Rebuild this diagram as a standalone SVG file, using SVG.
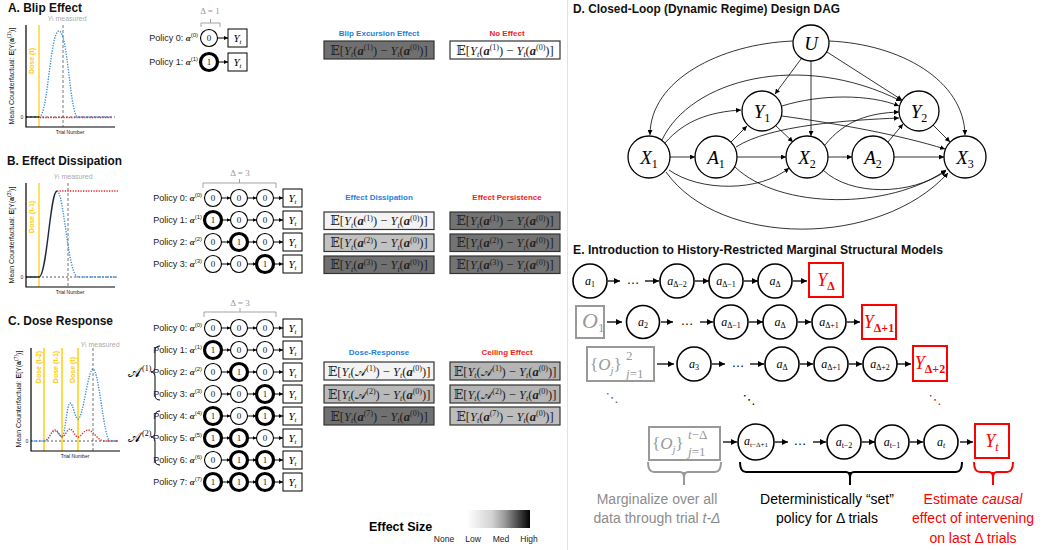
<svg xmlns="http://www.w3.org/2000/svg" width="1043" height="550" viewBox="0 0 1043 550">
<defs>
<marker id="ah" viewBox="0 0 10 10" refX="10" refY="5" markerWidth="5" markerHeight="5" markerUnits="userSpaceOnUse" orient="auto"><path d="M0,0 L10,5 L0,10 z" fill="#000"/></marker>
<marker id="ahp" viewBox="0 0 10 10" refX="10" refY="5" markerWidth="4" markerHeight="4" markerUnits="userSpaceOnUse" orient="auto"><path d="M0,0 L10,5 L0,10 z" fill="#000"/></marker>
<marker id="ahE" viewBox="0 0 10 10" refX="10" refY="5" markerWidth="6" markerHeight="6" markerUnits="userSpaceOnUse" orient="auto"><path d="M0,0 L10,5 L0,10 z" fill="#000"/></marker>
<linearGradient id="es" x1="0" x2="1" y1="0" y2="0">
<stop offset="0" stop-color="#ffffff"/><stop offset="0.4" stop-color="#d2d2d2"/><stop offset="0.6" stop-color="#9a9a9a"/><stop offset="1" stop-color="#000"/>
</linearGradient>
</defs>
<style>
.ttl{font-family:"Liberation Sans",Arial,sans-serif;font-weight:bold;font-size:13.5px;fill:#111}
.pol{font-family:"Liberation Sans",Arial,sans-serif;font-size:9px;fill:#222}
.bi{font-family:"Liberation Serif",serif;font-weight:bold;font-style:italic}
.it{font-style:italic}
.scr{font-family:"DejaVu Sans","DejaVu Serif",serif;font-style:normal}
.c{fill:#fff;stroke:#000;stroke-width:1.1}
.ck{fill:#fff;stroke:#000;stroke-width:3.2}
.num{font-family:"Liberation Serif",serif;font-size:9px;text-anchor:middle;fill:#222}
.yb{fill:#fff;stroke:#000;stroke-width:1}
.yt{font-family:"Liberation Serif",serif;font-style:italic;font-size:11px;text-anchor:middle}
.pa{stroke:#000;stroke-width:1;marker-end:url(#ahp)}
.fbox{stroke:#333;stroke-width:1.2}
.fm{font-family:"Liberation Serif","DejaVu Serif","DejaVu Sans",serif;font-size:12.5px;text-anchor:middle;fill:#222}
.lbB{font-family:"Liberation Sans",Arial,sans-serif;font-weight:bold;font-size:8px;fill:#1f7fd6;text-anchor:middle}
.lbR{font-family:"Liberation Sans",Arial,sans-serif;font-weight:bold;font-size:8px;fill:#f21d1d;text-anchor:middle}
.ax{stroke:#000;stroke-width:1.2;fill:none}
.blue{stroke:#3d8fdc;stroke-width:1.4;stroke-dasharray:1.3 1.3;fill:none}
.red{stroke:#e8282b;stroke-width:1.4;stroke-dasharray:1.3 1.3;fill:none}
.base{stroke:#333;stroke-width:0.8;stroke-dasharray:2 2;fill:none}
.vd{stroke:#666;stroke-width:0.9;stroke-dasharray:3 2}
.yl{stroke:#ffe066;stroke-width:2}
.yl2{stroke:#ffd21f;stroke-width:1.6}
.dose{font-family:"Liberation Sans",Arial,sans-serif;font-weight:bold;font-size:7px;fill:#ffcc00;text-anchor:middle}
.ylab{font-family:"Liberation Sans",Arial,sans-serif;font-size:7px;text-anchor:middle;fill:#222}
.tiny{font-family:"Liberation Sans",Arial,sans-serif;font-size:5px;text-anchor:middle;fill:#222}
.meas{font-family:"Liberation Sans",Arial,sans-serif;font-size:7px;fill:#aaa;text-anchor:middle}
.gtx{font-family:"Liberation Serif",serif;font-size:9px;fill:#999;text-anchor:middle}
.gbr{stroke:#999;stroke-width:0.9;fill:none}
.dg{stroke:#000;stroke-width:0.8;fill:none;marker-end:url(#ah)}
.dn{fill:#fff;stroke:#000;stroke-width:1.3}
.dl{font-family:"Liberation Serif",serif;font-style:italic;font-size:19px;text-anchor:middle}
.ec{fill:#fff;stroke:#000;stroke-width:1.6}
.ea{stroke:#000;stroke-width:1.3;marker-end:url(#ahE)}
.el{font-family:"Liberation Serif",serif;font-style:italic;font-size:12px;text-anchor:middle}
.rb{fill:#fff;stroke:#f00;stroke-width:2}
.gb{fill:#fff;stroke:#999;stroke-width:2}
.rt{font-family:"Liberation Serif",serif;font-style:italic;font-size:18px;fill:#f00;text-anchor:middle}
.gt{font-family:"Liberation Serif",serif;font-size:19px;fill:#999}
.gt17{font-family:"Liberation Serif",serif;font-size:17px;fill:#999}
.gts{font-family:"Liberation Serif",serif;font-size:13px;fill:#999}
.et{font-family:"Liberation Sans",Arial,sans-serif;font-size:14px;text-anchor:middle}
.dots{font-family:"DejaVu Sans",sans-serif;font-size:13px;text-anchor:middle}
.brc{fill:none;stroke-width:2}
</style>
<rect width="1043" height="550" fill="#fff"/>
<line x1="567.5" y1="0" x2="567.5" y2="550" stroke="#e2e2e2" stroke-width="1"/>

<!-- ============ PANEL A ============ -->
<g id="panelA">
<text class="ttl" x="8" y="12" textLength="74" lengthAdjust="spacingAndGlyphs">A. Blip Effect</text>
<g id="plotA">
<line class="yl" x1="39" y1="25" x2="39" y2="127"/>
<text class="dose" transform="rotate(-90 34 61)" x="34" y="61">Dose (t)</text>
<line class="vd" x1="63" y1="25" x2="63" y2="127"/>
<text class="meas" x="67" y="21"><tspan class="it">Y</tspan><tspan font-size="5">t</tspan> measured</text>
<path class="base" d="M26,117 H115"/>
<path d="M26,117 H39" stroke="#111" stroke-width="1.3"/>
<path class="red" d="M40,117.5 H112"/>
<path class="blue" d="M39,117 C48,117 50,31 59,31 C68,31 70,117 78,117 L112,117"/>
<path class="ax" d="M26,25 V127 H115"/>
<text class="tiny" x="22" y="119">0</text>
<text class="tiny" x="70" y="134">Trial Number</text>
<text class="ylab" transform="rotate(-90 14 76)" x="14" y="76">Mean Counterfactual: <tspan font-weight="bold">E</tspan>[Y(<tspan font-weight="bold">a</tspan><tspan font-size="5" dy="-3">(1)</tspan><tspan dy="3">)]</tspan></text>
</g>
<text class="gtx" x="210" y="14">Δ = 1</text>
<path class="gbr" d="M201,27 V23 H220 V27 M210.5,23 V19"/>
<g id="A-p0">
<text class="pol" x="198" y="41" text-anchor="end">Policy 0: <tspan class="bi">α</tspan><tspan font-size="6" dy="-4">(0)</tspan></text>
<circle class="c" cx="209" cy="38" r="8.5"/><text class="num" x="209" y="41">0</text>
<line class="pa" x1="217.5" y1="38" x2="228" y2="38"/>
<rect class="yb" x="228" y="29" width="19" height="18"/><text class="yt" x="237.5" y="42">Y<tspan font-size="7" dy="2">t</tspan></text>
</g>
<g id="A-p1">
<text class="pol" x="198" y="65" text-anchor="end">Policy 1: <tspan class="bi">α</tspan><tspan font-size="6" dy="-4">(1)</tspan></text>
<circle class="ck" cx="209" cy="62" r="8.5"/><text class="num" x="209" y="65">1</text>
<line class="pa" x1="217.5" y1="62" x2="228" y2="62"/>
<rect class="yb" x="228" y="53" width="19" height="18"/><text class="yt" x="237.5" y="66">Y<tspan font-size="7" dy="2">t</tspan></text>
</g>
<text class="lbB" x="379" y="36">Blip Excursion Effect</text>
<text class="lbR" x="507" y="36">No Effect</text>
<g id="A-f1"><rect class="fbox" x="324" y="41" width="110" height="18" fill="#707070"/>
<text class="fm" x="379" y="54.5">𝔼[<tspan class="it">Y</tspan><tspan class="it" font-size="8" dy="2.5">t</tspan><tspan dy="-2.5">(</tspan><tspan class="bi">a</tspan><tspan font-size="8" dy="-4.5">(1)</tspan><tspan dy="4.5">) − </tspan><tspan class="it">Y</tspan><tspan class="it" font-size="8" dy="2.5">t</tspan><tspan dy="-2.5">(</tspan><tspan class="bi">a</tspan><tspan font-size="8" dy="-4.5">(0)</tspan><tspan dy="4.5">)]</tspan></text></g>
<g id="A-f2"><rect class="fbox" x="450" y="41" width="110" height="18" fill="#fff"/>
<text class="fm" x="505" y="54.5">𝔼[<tspan class="it">Y</tspan><tspan class="it" font-size="8" dy="2.5">t</tspan><tspan dy="-2.5">(</tspan><tspan class="bi">a</tspan><tspan font-size="8" dy="-4.5">(1)</tspan><tspan dy="4.5">) − </tspan><tspan class="it">Y</tspan><tspan class="it" font-size="8" dy="2.5">t</tspan><tspan dy="-2.5">(</tspan><tspan class="bi">a</tspan><tspan font-size="8" dy="-4.5">(0)</tspan><tspan dy="4.5">)]</tspan></text></g>
</g>

<!-- ============ PANEL B ============ -->
<g id="panelB">
<text class="ttl" x="7" y="165" textLength="115" lengthAdjust="spacingAndGlyphs">B. Effect Dissipation</text>
<g id="plotB">
<line class="yl" x1="39" y1="183" x2="39" y2="287"/>
<text class="dose" transform="rotate(-90 34 217)" x="34" y="217">Dose (t-1)</text>
<line class="vd" x1="68" y1="183" x2="68" y2="287"/>
<text class="meas" x="73" y="179"><tspan class="it">Y</tspan><tspan font-size="5">t</tspan> measured</text>
<path class="base" d="M26,277 H117"/>
<path class="red" d="M57,191 H118"/>
<path class="blue" d="M57,191 C64,191 68,277 78,277 L117,277"/>
<path d="M26,277 H39 C47,277 50,191 57,191" stroke="#1b2a3a" stroke-width="1.4" fill="none"/>
<path class="ax" d="M26,183 V287 H115"/>
<text class="tiny" x="22" y="279">0</text>
<text class="tiny" x="70" y="294">Trial Number</text>
<text class="ylab" transform="rotate(-90 14 235)" x="14" y="235">Mean Counterfactual: <tspan font-weight="bold">E</tspan>[Y(<tspan font-weight="bold">a</tspan><tspan font-size="5" dy="-3">(3)</tspan><tspan dy="3">)]</tspan></text>
</g>
<text class="gtx" x="240" y="176">Δ = 3</text>
<path class="gbr" d="M203,188 V183 H276 V188 M239.5,183 V179"/>
<g id="B-p0">
<text class="pol" x="202" y="201" text-anchor="end">Policy 0: <tspan class="bi">α</tspan><tspan font-size="6" dy="-4">(0)</tspan></text>
<circle class="c" cx="213" cy="198" r="8.5"/><text class="num" x="213" y="201">0</text>
<line class="pa" x1="221.5" y1="198" x2="230.5" y2="198"/>
<circle class="c" cx="239" cy="198" r="8.5"/><text class="num" x="239" y="201">0</text>
<line class="pa" x1="247.5" y1="198" x2="256.5" y2="198"/>
<circle class="c" cx="265" cy="198" r="8.5"/><text class="num" x="265" y="201">0</text>
<line class="pa" x1="273.5" y1="198" x2="283" y2="198"/>
<rect class="yb" x="283" y="189" width="19" height="18"/><text class="yt" x="292.5" y="202">Y<tspan font-size="7" dy="2">t</tspan></text>
</g>
<g id="B-p1">
<text class="pol" x="202" y="223" text-anchor="end">Policy 1: <tspan class="bi">α</tspan><tspan font-size="6" dy="-4">(1)</tspan></text>
<circle class="ck" cx="213" cy="220" r="8.5"/><text class="num" x="213" y="223">1</text>
<line class="pa" x1="221.5" y1="220" x2="230.5" y2="220"/>
<circle class="c" cx="239" cy="220" r="8.5"/><text class="num" x="239" y="223">0</text>
<line class="pa" x1="247.5" y1="220" x2="256.5" y2="220"/>
<circle class="c" cx="265" cy="220" r="8.5"/><text class="num" x="265" y="223">0</text>
<line class="pa" x1="273.5" y1="220" x2="283" y2="220"/>
<rect class="yb" x="283" y="211" width="19" height="18"/><text class="yt" x="292.5" y="224">Y<tspan font-size="7" dy="2">t</tspan></text>
</g>
<g id="B-p2">
<text class="pol" x="202" y="245" text-anchor="end">Policy 2: <tspan class="bi">α</tspan><tspan font-size="6" dy="-4">(2)</tspan></text>
<circle class="c" cx="213" cy="242" r="8.5"/><text class="num" x="213" y="245">0</text>
<line class="pa" x1="221.5" y1="242" x2="230.5" y2="242"/>
<circle class="ck" cx="239" cy="242" r="8.5"/><text class="num" x="239" y="245">1</text>
<line class="pa" x1="247.5" y1="242" x2="256.5" y2="242"/>
<circle class="c" cx="265" cy="242" r="8.5"/><text class="num" x="265" y="245">0</text>
<line class="pa" x1="273.5" y1="242" x2="283" y2="242"/>
<rect class="yb" x="283" y="233" width="19" height="18"/><text class="yt" x="292.5" y="246">Y<tspan font-size="7" dy="2">t</tspan></text>
</g>
<g id="B-p3">
<text class="pol" x="202" y="267" text-anchor="end">Policy 3: <tspan class="bi">α</tspan><tspan font-size="6" dy="-4">(3)</tspan></text>
<circle class="c" cx="213" cy="264" r="8.5"/><text class="num" x="213" y="267">0</text>
<line class="pa" x1="221.5" y1="264" x2="230.5" y2="264"/>
<circle class="c" cx="239" cy="264" r="8.5"/><text class="num" x="239" y="267">0</text>
<line class="pa" x1="247.5" y1="264" x2="256.5" y2="264"/>
<circle class="ck" cx="265" cy="264" r="8.5"/><text class="num" x="265" y="267">1</text>
<line class="pa" x1="273.5" y1="264" x2="283" y2="264"/>
<rect class="yb" x="283" y="255" width="19" height="18"/><text class="yt" x="292.5" y="268">Y<tspan font-size="7" dy="2">t</tspan></text>
</g>
<text class="lbB" x="379" y="200">Effect Dissipation</text>
<text class="lbR" x="507" y="200">Effect Persistence</text>
<g id="B-f">
<rect class="fbox" x="324" y="212" width="110" height="17.5" fill="#f3f3f3"/>
<text class="fm" x="379" y="225">𝔼[<tspan class="it">Y</tspan><tspan class="it" font-size="8" dy="2.5">t</tspan><tspan dy="-2.5">(</tspan><tspan class="bi">a</tspan><tspan font-size="8" dy="-4.5">(1)</tspan><tspan dy="4.5">) − </tspan><tspan class="it">Y</tspan><tspan class="it" font-size="8" dy="2.5">t</tspan><tspan dy="-2.5">(</tspan><tspan class="bi">a</tspan><tspan font-size="8" dy="-4.5">(0)</tspan><tspan dy="4.5">)]</tspan></text>
<rect class="fbox" x="324" y="234" width="110" height="17.5" fill="#c2c2c2"/>
<text class="fm" x="379" y="247">𝔼[<tspan class="it">Y</tspan><tspan class="it" font-size="8" dy="2.5">t</tspan><tspan dy="-2.5">(</tspan><tspan class="bi">a</tspan><tspan font-size="8" dy="-4.5">(2)</tspan><tspan dy="4.5">) − </tspan><tspan class="it">Y</tspan><tspan class="it" font-size="8" dy="2.5">t</tspan><tspan dy="-2.5">(</tspan><tspan class="bi">a</tspan><tspan font-size="8" dy="-4.5">(0)</tspan><tspan dy="4.5">)]</tspan></text>
<rect class="fbox" x="324" y="256" width="110" height="17.5" fill="#707070"/>
<text class="fm" x="379" y="269">𝔼[<tspan class="it">Y</tspan><tspan class="it" font-size="8" dy="2.5">t</tspan><tspan dy="-2.5">(</tspan><tspan class="bi">a</tspan><tspan font-size="8" dy="-4.5">(3)</tspan><tspan dy="4.5">) − </tspan><tspan class="it">Y</tspan><tspan class="it" font-size="8" dy="2.5">t</tspan><tspan dy="-2.5">(</tspan><tspan class="bi">a</tspan><tspan font-size="8" dy="-4.5">(0)</tspan><tspan dy="4.5">)]</tspan></text>
<rect class="fbox" x="450" y="212" width="110" height="17.5" fill="#737373"/>
<text class="fm" x="505" y="225">𝔼[<tspan class="it">Y</tspan><tspan class="it" font-size="8" dy="2.5">t</tspan><tspan dy="-2.5">(</tspan><tspan class="bi">a</tspan><tspan font-size="8" dy="-4.5">(1)</tspan><tspan dy="4.5">) − </tspan><tspan class="it">Y</tspan><tspan class="it" font-size="8" dy="2.5">t</tspan><tspan dy="-2.5">(</tspan><tspan class="bi">a</tspan><tspan font-size="8" dy="-4.5">(0)</tspan><tspan dy="4.5">)]</tspan></text>
<rect class="fbox" x="450" y="234" width="110" height="17.5" fill="#737373"/>
<text class="fm" x="505" y="247">𝔼[<tspan class="it">Y</tspan><tspan class="it" font-size="8" dy="2.5">t</tspan><tspan dy="-2.5">(</tspan><tspan class="bi">a</tspan><tspan font-size="8" dy="-4.5">(2)</tspan><tspan dy="4.5">) − </tspan><tspan class="it">Y</tspan><tspan class="it" font-size="8" dy="2.5">t</tspan><tspan dy="-2.5">(</tspan><tspan class="bi">a</tspan><tspan font-size="8" dy="-4.5">(0)</tspan><tspan dy="4.5">)]</tspan></text>
<rect class="fbox" x="450" y="256" width="110" height="17.5" fill="#737373"/>
<text class="fm" x="505" y="269">𝔼[<tspan class="it">Y</tspan><tspan class="it" font-size="8" dy="2.5">t</tspan><tspan dy="-2.5">(</tspan><tspan class="bi">a</tspan><tspan font-size="8" dy="-4.5">(3)</tspan><tspan dy="4.5">) − </tspan><tspan class="it">Y</tspan><tspan class="it" font-size="8" dy="2.5">t</tspan><tspan dy="-2.5">(</tspan><tspan class="bi">a</tspan><tspan font-size="8" dy="-4.5">(0)</tspan><tspan dy="4.5">)]</tspan></text>
</g>
</g>

<!-- ============ PANEL C ============ -->
<g id="panelC">
<text class="ttl" x="8" y="325" textLength="105" lengthAdjust="spacingAndGlyphs">C. Dose Response</text>
<g id="plotC">
<line class="yl2" x1="44" y1="348" x2="44" y2="451"/>
<line class="yl2" x1="62" y1="348" x2="62" y2="451"/>
<line class="yl2" x1="78" y1="348" x2="78" y2="451"/>
<text class="dose" transform="rotate(-90 41 367)" x="41" y="367">Dose (t-2)</text>
<text class="dose" transform="rotate(-90 58 367)" x="58" y="367">Dose (t-1)</text>
<text class="dose" transform="rotate(-90 75 370)" x="75" y="370">Dose (t)</text>
<line class="vd" x1="93" y1="348" x2="93" y2="451"/>
<text class="meas" x="100" y="347"><tspan class="it">Y</tspan><tspan font-size="5">t</tspan> measured</text>
<path class="base" d="M31,441 H119"/>
<path class="red" d="M44,441 C49,441 51,430 55,430 C58,430 60,437 62,437 C65,437 67,429 70,429 C73,429 75,437 78,437 C81,437 84,430 88,430 C93,430 98,441 104,441 L118,441"/>
<path class="blue" d="M31,441 L44,441 C49,441 51,431 55,431 C58,431 60,437 62,437 C65,437 67,403 70,403 C73,403 75,419 78,419 C83,419 88,369 93,369 C99,369 104,441 110,441 L118,441"/>
<path class="ax" d="M31,348 V451 H120"/>
<text class="tiny" x="27" y="443">0</text>
<text class="tiny" x="75" y="458">Trial Number</text>
<text class="ylab" transform="rotate(-90 21 399)" x="21" y="399">Mean Counterfactual: <tspan font-weight="bold">E</tspan>[Y(<tspan font-weight="bold">a</tspan><tspan font-size="5" dy="-3">(7)</tspan><tspan dy="3">)]</tspan></text>
</g>
<text class="gtx" x="240" y="306">Δ = 3</text>
<path class="gbr" d="M204,317 V312 H276 V317 M240,312 V308"/>
<g id="C-sets" font-family="Liberation Serif, serif">
<text x="128" y="377" font-size="14"><tspan class="scr">𝒜</tspan><tspan font-size="8" dx="1" dy="-6">(1)</tspan></text>
<path d="M160,346 Q155,346 155,351 V367 Q155,372 151,372 Q155,372 155,377 V395 Q155,400 160,400" fill="none" stroke="#000" stroke-width="1"/>
<text x="128" y="442" font-size="14"><tspan class="scr">𝒜</tspan><tspan font-size="8" dx="1" dy="-6">(2)</tspan></text>
<path d="M160,411 Q155,411 155,416 V432 Q155,437 151,437 Q155,437 155,442 V460 Q155,465 160,465" fill="none" stroke="#000" stroke-width="1"/>
</g>
<g id="C-p0">
<text class="pol" x="202" y="331" text-anchor="end">Policy 0: <tspan class="bi">α</tspan><tspan font-size="6" dy="-4">(0)</tspan></text>
<circle class="c" cx="213" cy="328" r="8.5"/><text class="num" x="213" y="331">0</text>
<line class="pa" x1="221.5" y1="328" x2="230.5" y2="328"/>
<circle class="c" cx="239" cy="328" r="8.5"/><text class="num" x="239" y="331">0</text>
<line class="pa" x1="247.5" y1="328" x2="256.5" y2="328"/>
<circle class="c" cx="265" cy="328" r="8.5"/><text class="num" x="265" y="331">0</text>
<line class="pa" x1="273.5" y1="328" x2="283" y2="328"/>
<rect class="yb" x="283" y="319" width="19" height="18"/><text class="yt" x="292.5" y="332">Y<tspan font-size="7" dy="2">t</tspan></text>
</g>
<g id="C-p1">
<text class="pol" x="202" y="353" text-anchor="end">Policy 1: <tspan class="bi">α</tspan><tspan font-size="6" dy="-4">(1)</tspan></text>
<circle class="ck" cx="213" cy="350" r="8.5"/><text class="num" x="213" y="353">1</text>
<line class="pa" x1="221.5" y1="350" x2="230.5" y2="350"/>
<circle class="c" cx="239" cy="350" r="8.5"/><text class="num" x="239" y="353">0</text>
<line class="pa" x1="247.5" y1="350" x2="256.5" y2="350"/>
<circle class="c" cx="265" cy="350" r="8.5"/><text class="num" x="265" y="353">0</text>
<line class="pa" x1="273.5" y1="350" x2="283" y2="350"/>
<rect class="yb" x="283" y="341" width="19" height="18"/><text class="yt" x="292.5" y="354">Y<tspan font-size="7" dy="2">t</tspan></text>
</g>
<g id="C-p2">
<text class="pol" x="202" y="375" text-anchor="end">Policy 2: <tspan class="bi">α</tspan><tspan font-size="6" dy="-4">(2)</tspan></text>
<circle class="c" cx="213" cy="372" r="8.5"/><text class="num" x="213" y="375">0</text>
<line class="pa" x1="221.5" y1="372" x2="230.5" y2="372"/>
<circle class="ck" cx="239" cy="372" r="8.5"/><text class="num" x="239" y="375">1</text>
<line class="pa" x1="247.5" y1="372" x2="256.5" y2="372"/>
<circle class="c" cx="265" cy="372" r="8.5"/><text class="num" x="265" y="375">0</text>
<line class="pa" x1="273.5" y1="372" x2="283" y2="372"/>
<rect class="yb" x="283" y="363" width="19" height="18"/><text class="yt" x="292.5" y="376">Y<tspan font-size="7" dy="2">t</tspan></text>
</g>
<g id="C-p3">
<text class="pol" x="202" y="397" text-anchor="end">Policy 3: <tspan class="bi">α</tspan><tspan font-size="6" dy="-4">(3)</tspan></text>
<circle class="c" cx="213" cy="394" r="8.5"/><text class="num" x="213" y="397">0</text>
<line class="pa" x1="221.5" y1="394" x2="230.5" y2="394"/>
<circle class="c" cx="239" cy="394" r="8.5"/><text class="num" x="239" y="397">0</text>
<line class="pa" x1="247.5" y1="394" x2="256.5" y2="394"/>
<circle class="ck" cx="265" cy="394" r="8.5"/><text class="num" x="265" y="397">1</text>
<line class="pa" x1="273.5" y1="394" x2="283" y2="394"/>
<rect class="yb" x="283" y="385" width="19" height="18"/><text class="yt" x="292.5" y="398">Y<tspan font-size="7" dy="2">t</tspan></text>
</g>
<g id="C-p4">
<text class="pol" x="202" y="419" text-anchor="end">Policy 4: <tspan class="bi">α</tspan><tspan font-size="6" dy="-4">(4)</tspan></text>
<circle class="ck" cx="213" cy="416" r="8.5"/><text class="num" x="213" y="419">1</text>
<line class="pa" x1="221.5" y1="416" x2="230.5" y2="416"/>
<circle class="c" cx="239" cy="416" r="8.5"/><text class="num" x="239" y="419">0</text>
<line class="pa" x1="247.5" y1="416" x2="256.5" y2="416"/>
<circle class="ck" cx="265" cy="416" r="8.5"/><text class="num" x="265" y="419">1</text>
<line class="pa" x1="273.5" y1="416" x2="283" y2="416"/>
<rect class="yb" x="283" y="407" width="19" height="18"/><text class="yt" x="292.5" y="420">Y<tspan font-size="7" dy="2">t</tspan></text>
</g>
<g id="C-p5">
<text class="pol" x="202" y="441" text-anchor="end">Policy 5: <tspan class="bi">α</tspan><tspan font-size="6" dy="-4">(5)</tspan></text>
<circle class="ck" cx="213" cy="438" r="8.5"/><text class="num" x="213" y="441">1</text>
<line class="pa" x1="221.5" y1="438" x2="230.5" y2="438"/>
<circle class="ck" cx="239" cy="438" r="8.5"/><text class="num" x="239" y="441">1</text>
<line class="pa" x1="247.5" y1="438" x2="256.5" y2="438"/>
<circle class="c" cx="265" cy="438" r="8.5"/><text class="num" x="265" y="441">0</text>
<line class="pa" x1="273.5" y1="438" x2="283" y2="438"/>
<rect class="yb" x="283" y="429" width="19" height="18"/><text class="yt" x="292.5" y="442">Y<tspan font-size="7" dy="2">t</tspan></text>
</g>
<g id="C-p6">
<text class="pol" x="202" y="463" text-anchor="end">Policy 6: <tspan class="bi">α</tspan><tspan font-size="6" dy="-4">(6)</tspan></text>
<circle class="c" cx="213" cy="460" r="8.5"/><text class="num" x="213" y="463">0</text>
<line class="pa" x1="221.5" y1="460" x2="230.5" y2="460"/>
<circle class="ck" cx="239" cy="460" r="8.5"/><text class="num" x="239" y="463">1</text>
<line class="pa" x1="247.5" y1="460" x2="256.5" y2="460"/>
<circle class="ck" cx="265" cy="460" r="8.5"/><text class="num" x="265" y="463">1</text>
<line class="pa" x1="273.5" y1="460" x2="283" y2="460"/>
<rect class="yb" x="283" y="451" width="19" height="18"/><text class="yt" x="292.5" y="464">Y<tspan font-size="7" dy="2">t</tspan></text>
</g>
<g id="C-p7">
<text class="pol" x="202" y="485" text-anchor="end">Policy 7: <tspan class="bi">α</tspan><tspan font-size="6" dy="-4">(7)</tspan></text>
<circle class="ck" cx="213" cy="482" r="8.5"/><text class="num" x="213" y="485">1</text>
<line class="pa" x1="221.5" y1="482" x2="230.5" y2="482"/>
<circle class="ck" cx="239" cy="482" r="8.5"/><text class="num" x="239" y="485">1</text>
<line class="pa" x1="247.5" y1="482" x2="256.5" y2="482"/>
<circle class="ck" cx="265" cy="482" r="8.5"/><text class="num" x="265" y="485">1</text>
<line class="pa" x1="273.5" y1="482" x2="283" y2="482"/>
<rect class="yb" x="283" y="473" width="19" height="18"/><text class="yt" x="292.5" y="486">Y<tspan font-size="7" dy="2">t</tspan></text>
</g>
<text class="lbB" x="379" y="355">Dose-Response</text>
<text class="lbR" x="507" y="355">Ceiling Effect</text>
<g id="C-f">
<rect class="fbox" x="324" y="362" width="110" height="18" fill="#f3f3f3"/>
<text class="fm" x="379" y="375.5">𝔼[<tspan class="it">Y</tspan><tspan class="it" font-size="8" dy="2.5">t</tspan><tspan dy="-2.5">(</tspan><tspan class="scr" font-size="11.5">𝒜</tspan><tspan font-size="8" dx="0.5" dy="-4.5">(1)</tspan><tspan dy="4.5">) − </tspan><tspan class="it">Y</tspan><tspan class="it" font-size="8" dy="2.5">t</tspan><tspan dy="-2.5">(</tspan><tspan class="bi">a</tspan><tspan font-size="8" dy="-4.5">(0)</tspan><tspan dy="4.5">)]</tspan></text>
<rect class="fbox" x="324" y="385" width="110" height="18" fill="#bababa"/>
<text class="fm" x="379" y="398.5">𝔼[<tspan class="it">Y</tspan><tspan class="it" font-size="8" dy="2.5">t</tspan><tspan dy="-2.5">(</tspan><tspan class="scr" font-size="11.5">𝒜</tspan><tspan font-size="8" dx="0.5" dy="-4.5">(2)</tspan><tspan dy="4.5">) − </tspan><tspan class="it">Y</tspan><tspan class="it" font-size="8" dy="2.5">t</tspan><tspan dy="-2.5">(</tspan><tspan class="bi">a</tspan><tspan font-size="8" dy="-4.5">(0)</tspan><tspan dy="4.5">)]</tspan></text>
<rect class="fbox" x="324" y="407" width="110" height="18" fill="#707070"/>
<text class="fm" x="379" y="420.5">𝔼[<tspan class="it">Y</tspan><tspan class="it" font-size="8" dy="2.5">t</tspan><tspan dy="-2.5">(</tspan><tspan class="bi">a</tspan><tspan font-size="8" dy="-4.5">(7)</tspan><tspan dy="4.5">) − </tspan><tspan class="it">Y</tspan><tspan class="it" font-size="8" dy="2.5">t</tspan><tspan dy="-2.5">(</tspan><tspan class="bi">a</tspan><tspan font-size="8" dy="-4.5">(0)</tspan><tspan dy="4.5">)]</tspan></text>
<rect class="fbox" x="450" y="362" width="110" height="18" fill="#b5b5b5"/>
<text class="fm" x="505" y="375.5">𝔼[<tspan class="it">Y</tspan><tspan class="it" font-size="8" dy="2.5">t</tspan><tspan dy="-2.5">(</tspan><tspan class="scr" font-size="11.5">𝒜</tspan><tspan font-size="8" dx="0.5" dy="-4.5">(1)</tspan><tspan dy="4.5">) − </tspan><tspan class="it">Y</tspan><tspan class="it" font-size="8" dy="2.5">t</tspan><tspan dy="-2.5">(</tspan><tspan class="bi">a</tspan><tspan font-size="8" dy="-4.5">(0)</tspan><tspan dy="4.5">)]</tspan></text>
<rect class="fbox" x="450" y="385" width="110" height="18" fill="#b5b5b5"/>
<text class="fm" x="505" y="398.5">𝔼[<tspan class="it">Y</tspan><tspan class="it" font-size="8" dy="2.5">t</tspan><tspan dy="-2.5">(</tspan><tspan class="scr" font-size="11.5">𝒜</tspan><tspan font-size="8" dx="0.5" dy="-4.5">(2)</tspan><tspan dy="4.5">) − </tspan><tspan class="it">Y</tspan><tspan class="it" font-size="8" dy="2.5">t</tspan><tspan dy="-2.5">(</tspan><tspan class="bi">a</tspan><tspan font-size="8" dy="-4.5">(0)</tspan><tspan dy="4.5">)]</tspan></text>
<rect class="fbox" x="450" y="407" width="110" height="18" fill="#bdbdbd"/>
<text class="fm" x="505" y="420.5">𝔼[<tspan class="it">Y</tspan><tspan class="it" font-size="8" dy="2.5">t</tspan><tspan dy="-2.5">(</tspan><tspan class="bi">a</tspan><tspan font-size="8" dy="-4.5">(7)</tspan><tspan dy="4.5">) − </tspan><tspan class="it">Y</tspan><tspan class="it" font-size="8" dy="2.5">t</tspan><tspan dy="-2.5">(</tspan><tspan class="bi">a</tspan><tspan font-size="8" dy="-4.5">(0)</tspan><tspan dy="4.5">)]</tspan></text>
</g>
<g id="legend">
<text x="369" y="531" font-family="Liberation Sans, Arial, sans-serif" font-weight="bold" font-size="12.5">Effect Size</text>
<rect x="467" y="510" width="63" height="18" fill="url(#es)"/>
<g font-family="Liberation Sans, Arial, sans-serif" font-size="8.5" text-anchor="middle" fill="#222">
<text x="444" y="542">None</text><text x="473" y="542">Low</text><text x="501" y="542">Med</text><text x="529" y="542">High</text>
</g>
</g>
</g>

<!-- ============ PANEL D ============ -->
<g id="panelD">
<text class="ttl" x="573" y="13" textLength="267" lengthAdjust="spacingAndGlyphs">D. Closed-Loop (Dynamic Regime) Design DAG</text>
<g id="D-edges">
<path class="dg" d="M793,41 C720,44 650,80 650,135"/>
<path class="dg" d="M829,41 C900,44 964,80 965,135"/>
<path class="dg" d="M801,59 L775,94"/>
<path class="dg" d="M811,61 L811,136"/>
<path class="dg" d="M827,52 L902,100"/>
<path class="dg" d="M662,140 C690,80 800,50 901,101"/>
<path class="dg" d="M665,143 C685,120 710,112 741,110"/>
<path class="dg" d="M670,157 L695,157"/>
<path class="dg" d="M669,170 C700,192 760,192 789,168"/>
<path class="dg" d="M666,172 C720,248 880,248 948,173"/>
<path class="dg" d="M731,142 L747,126"/>
<path class="dg" d="M737,157 L786,157"/>
<path class="dg" d="M736,147 C770,125 850,120 899,118"/>
<path class="dg" d="M735,167 C780,210 890,210 946,170"/>
<path class="dg" d="M776,126 L793,142"/>
<path class="dg" d="M782,106 C820,94 870,94 899,106"/>
<path class="dg" d="M782,116 C840,124 900,135 945,149"/>
<path class="dg" d="M825,145 C845,120 870,113 899,112"/>
<path class="dg" d="M828,157 L852,157"/>
<path class="dg" d="M823,170 C850,196 910,196 946,171"/>
<path class="dg" d="M888,142 L903,124"/>
<path class="dg" d="M894,157 L944,157"/>
<path class="dg" d="M933,125 L950,142"/>
</g>
<g id="D-U"><circle class="dn" cx="811" cy="43" r="18"/><text class="dl" x="811" y="50">U</text></g>
<g id="D-Y1"><circle class="dn" cx="762" cy="111" r="20"/><text class="dl" x="762" y="118">Y<tspan font-size="12" font-style="normal" dy="4">1</tspan></text></g>
<g id="D-Y2"><circle class="dn" cx="919" cy="111" r="20"/><text class="dl" x="919" y="118">Y<tspan font-size="12" font-style="normal" dy="4">2</tspan></text></g>
<g id="D-X1"><circle class="dn" cx="649" cy="157" r="21"/><text class="dl" x="649" y="164">X<tspan font-size="12" font-style="normal" dy="4">1</tspan></text></g>
<g id="D-A1"><circle class="dn" cx="716" cy="157" r="21"/><text class="dl" x="716" y="164">A<tspan font-size="12" font-style="normal" dy="4">1</tspan></text></g>
<g id="D-X2"><circle class="dn" cx="807" cy="157" r="21"/><text class="dl" x="807" y="164">X<tspan font-size="12" font-style="normal" dy="4">2</tspan></text></g>
<g id="D-A2"><circle class="dn" cx="873" cy="157" r="21"/><text class="dl" x="873" y="164">A<tspan font-size="12" font-style="normal" dy="4">2</tspan></text></g>
<g id="D-X3"><circle class="dn" cx="965" cy="157" r="21"/><text class="dl" x="965" y="164">X<tspan font-size="12" font-style="normal" dy="4">3</tspan></text></g>
</g>

<!-- ============ PANEL E ============ -->
<g id="panelE">
<text class="ttl" x="573" y="254" textLength="370" lengthAdjust="spacingAndGlyphs">E. Introduction to History-Restricted Marginal Structural Models</text>
<g id="E-arrows">
<line class="ea" x1="608" y1="281" x2="620" y2="281"/>
<line class="ea" x1="645" y1="281" x2="659" y2="281"/>
<line class="ea" x1="695" y1="281" x2="709" y2="281"/>
<line class="ea" x1="744" y1="281" x2="758" y2="281"/>
<line class="ea" x1="793" y1="281" x2="807" y2="281"/>
<line class="ea" x1="607" y1="322" x2="622" y2="322"/>
<line class="ea" x1="661" y1="322" x2="673" y2="322"/>
<line class="ea" x1="700" y1="322" x2="713" y2="322"/>
<line class="ea" x1="749" y1="322" x2="763" y2="322"/>
<line class="ea" x1="798" y1="322" x2="811" y2="322"/>
<line class="ea" x1="847" y1="322" x2="860" y2="322"/>
<line class="ea" x1="657" y1="364" x2="674" y2="364"/>
<line class="ea" x1="712" y1="364" x2="725" y2="364"/>
<line class="ea" x1="750" y1="364" x2="764" y2="364"/>
<line class="ea" x1="800" y1="364" x2="813" y2="364"/>
<line class="ea" x1="849" y1="364" x2="862" y2="364"/>
<line class="ea" x1="897" y1="364" x2="911" y2="364"/>
<line class="ea" x1="723" y1="442" x2="737" y2="442"/>
<line class="ea" x1="775" y1="442" x2="788" y2="442"/>
<line class="ea" x1="813" y1="442" x2="826" y2="442"/>
<line class="ea" x1="862" y1="442" x2="875" y2="442"/>
<line class="ea" x1="910" y1="442" x2="923" y2="442"/>
<line class="ea" x1="960" y1="442" x2="973" y2="442"/>
</g>
<g id="E-row1">
<circle class="ec" cx="590" cy="281" r="17"/><text class="el" x="590" y="285">a<tspan font-size="8" font-style="normal" dy="2">1</tspan></text>
<text x="633" y="284" font-family="Liberation Sans, sans-serif" font-size="13" text-anchor="middle">…</text>
<circle class="ec" cx="677" cy="281" r="17"/><text class="el" x="677" y="285">a<tspan font-size="8" font-style="normal" dy="2">Δ−2</tspan></text>
<circle class="ec" cx="726" cy="281" r="17"/><text class="el" x="726" y="285">a<tspan font-size="8" font-style="normal" dy="2">Δ−1</tspan></text>
<circle class="ec" cx="775" cy="281" r="17"/><text class="el" x="775" y="285">a<tspan font-size="8" font-style="normal" dy="2">Δ</tspan></text>
<rect class="rb" x="809" y="263" width="34" height="34"/><text class="rt" x="826" y="286">Y<tspan font-size="12" font-style="normal" font-weight="bold" dy="4">Δ</tspan></text>
</g>
<g id="E-row2">
<rect class="gb" x="576" y="306" width="28" height="32"/><text class="gt" x="582" y="328"><tspan font-style="italic" font-size="22">O</tspan><tspan font-size="13" dy="4">1</tspan></text>
<circle class="ec" cx="643" cy="322" r="16.5"/><text class="el" x="643" y="326">a<tspan font-size="8" font-style="normal" dy="2">2</tspan></text>
<text x="687" y="325" font-family="Liberation Sans, sans-serif" font-size="13" text-anchor="middle">…</text>
<circle class="ec" cx="731" cy="322" r="17"/><text class="el" x="731" y="326">a<tspan font-size="8" font-style="normal" dy="2">Δ−1</tspan></text>
<circle class="ec" cx="780" cy="322" r="17"/><text class="el" x="780" y="326">a<tspan font-size="8" font-style="normal" dy="2">Δ</tspan></text>
<circle class="ec" cx="829" cy="322" r="17"/><text class="el" x="829" y="326">a<tspan font-size="8" font-style="normal" dy="2">Δ+1</tspan></text>
<rect class="rb" x="862" y="305" width="34" height="34"/><text class="rt" x="879" y="328">Y<tspan font-size="12" font-style="normal" font-weight="bold" dy="4">Δ+1</tspan></text>
</g>
<g id="E-row3">
<rect class="gb" x="587" y="347" width="67" height="34"/>
<text class="gt17" x="590" y="370">{<tspan font-style="italic">O</tspan><tspan font-size="11" font-style="italic" dy="4">j</tspan><tspan dy="-4">}</tspan></text>
<text class="gts" x="626" y="360">2</text>
<text class="gts" x="626" y="378"><tspan font-style="italic">j</tspan>=1</text>
<circle class="ec" cx="694" cy="364" r="17"/><text class="el" x="694" y="368">a<tspan font-size="8" font-style="normal" dy="2">3</tspan></text>
<text x="738" y="367" font-family="Liberation Sans, sans-serif" font-size="13" text-anchor="middle">…</text>
<circle class="ec" cx="782" cy="364" r="17"/><text class="el" x="782" y="368">a<tspan font-size="8" font-style="normal" dy="2">Δ</tspan></text>
<circle class="ec" cx="831" cy="364" r="17"/><text class="el" x="831" y="368">a<tspan font-size="8" font-style="normal" dy="2">Δ+1</tspan></text>
<circle class="ec" cx="880" cy="364" r="17"/><text class="el" x="880" y="368">a<tspan font-size="8" font-style="normal" dy="2">Δ+2</tspan></text>
<rect class="rb" x="913" y="346" width="34" height="35"/><text class="rt" x="930" y="369">Y<tspan font-size="12" font-style="normal" font-weight="bold" dy="4">Δ+2</tspan></text>
</g>
<g id="E-dots">
<text class="dots" x="612" y="402" fill="#666">⋱</text>
<text class="dots" x="749" y="404" fill="#000">⋱</text>
<text class="dots" x="935" y="404" fill="#f00">⋱</text>
</g>
<g id="E-row4">
<rect class="gb" x="649" y="427" width="71" height="33"/>
<text class="gt17" x="652" y="449">{<tspan font-style="italic">O</tspan><tspan font-size="11" font-style="italic" dy="4">j</tspan><tspan dy="-4">}</tspan></text>
<text class="gts" x="688" y="439"><tspan font-style="italic">t</tspan>−Δ</text>
<text class="gts" x="688" y="456"><tspan font-style="italic">j</tspan>=1</text>
<circle class="ec" cx="756" cy="442" r="18"/><text class="el" x="756" y="445" font-size="11">a<tspan font-size="7" font-style="normal" dy="2">t−Δ+1</tspan></text>
<text x="800" y="445" font-family="Liberation Sans, sans-serif" font-size="13" text-anchor="middle">…</text>
<circle class="ec" cx="844" cy="442" r="17"/><text class="el" x="844" y="446">a<tspan font-size="8" font-style="normal" dy="2">t−2</tspan></text>
<circle class="ec" cx="892" cy="442" r="17"/><text class="el" x="892" y="446">a<tspan font-size="8" font-style="normal" dy="2">t−1</tspan></text>
<circle class="ec" cx="941" cy="442" r="17"/><text class="el" x="941" y="446">a<tspan font-size="8" dy="2">t</tspan></text>
<rect class="rb" x="975" y="424" width="34" height="34"/><text class="rt" x="992" y="447">Y<tspan font-size="12" dy="4">t</tspan></text>
</g>
<g id="E-braces">
<path class="brc" stroke="#999" d="M648,462 Q648,472 654,472 H680 Q684,472 684,478 Q684,472 688,472 H715 Q721,472 721,462 M684,472 V485"/>
<path class="brc" stroke="#000" d="M740,462 Q740,472 746,472 H846 Q850,472 850,478 Q850,472 854,472 H956 Q962,472 962,462 M850,472 V485"/>
<path class="brc" stroke="#f00" d="M974,462 Q974,472 980,472 H989 Q993,472 993,478 Q993,472 997,472 H1007 Q1013,472 1013,462 M993,472 V485"/>
</g>
<g id="E-text">
<text class="et" x="657" y="504" fill="#8c8c8c">Marginalize over all</text>
<text class="et" x="657" y="523" fill="#8c8c8c">data through trial <tspan font-style="italic">t-Δ</tspan></text>
<text class="et" x="827" y="504" fill="#000">Deterministically “set”</text>
<text class="et" x="827" y="523" fill="#000">policy for Δ trials</text>
<text class="et" x="973" y="504" fill="#f00">Estimate <tspan font-style="italic">causal</tspan></text>
<text class="et" x="973" y="523" fill="#f00">effect of intervening</text>
<text class="et" x="973" y="543" fill="#f00">on last Δ trials</text>
</g>
</g>
</svg>
